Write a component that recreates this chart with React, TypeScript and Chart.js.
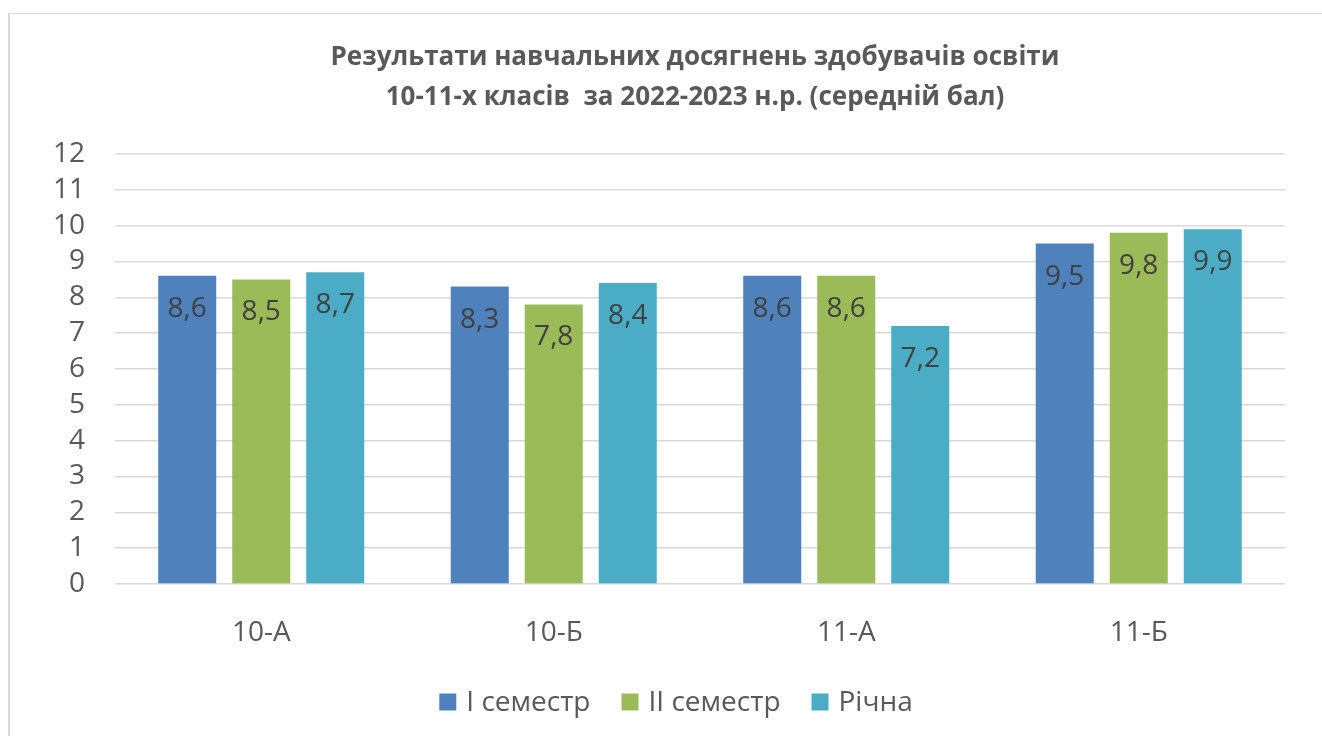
import React, { useEffect, useRef } from "react";
import { Chart, registerables } from "chart.js";

Chart.register(...registerables);

const titleLines = [
  "Результати навчальних досягнень здобувачів освіти",
  "10-11-х класів  за 2022-2023 н.р. (середній бал)",
];
const categories = ["10-А", "10-Б", "11-А", "11-Б"];
const seriesLabels = ["I семестр", "II семестр", "Річна"];
const seriesColors = ["#4f81bd", "#9bbb59", "#4bacc6"];
const semester1 = [8.6, 8.3, 8.6, 9.5];
const semester2 = [8.5, 7.8, 8.6, 9.8];
const annual = [8.7, 8.4, 7.2, 9.9];
const yTicks = [0, 1, 2, 3, 4, 5, 6, 7, 8, 9, 10, 11, 12];

const FONT = "'Open Sans', 'DejaVu Sans', sans-serif";
const TEXT = "#595959";
const FS = 28;

const overlayPlugin = {
  id: "overlay",
  afterDatasetsDraw(chart: any) {
    const ctx = chart.ctx;
    const area = chart.chartArea;
    ctx.save();
    // data labels
    ctx.font = `${FS}px ${FONT}`;
    ctx.fillStyle = "#404040";
    ctx.textAlign = "center";
    ctx.textBaseline = "middle";
    chart.data.datasets.forEach((ds: any, di: number) => {
      const meta = chart.getDatasetMeta(di);
      meta.data.forEach((el: any, i: number) => {
        const v = ds.data[i];
        const s = v.toFixed(1).replace(".", ",");
        ctx.fillText(s, el.x, el.y + 33);
      });
    });
    // title
    ctx.font = `bold 26px ${FONT}`;
    ctx.fillStyle = TEXT;
    const cx = (area.left + area.right) / 2 - 5;
    titleLines.forEach((t, i) => {
      ctx.fillText(t, cx, 58 + i * 40);
    });
    // legend
    ctx.font = `${FS}px ${FONT}`;
    ctx.textAlign = "left";
    const box = 17;
    const gapText = 10;
    const gapItem = 31;
    const widths = seriesLabels.map((l) => ctx.measureText(l).width);
    const total =
      widths.reduce((a, b) => a + b + box + gapText, 0) + gapItem * (seriesLabels.length - 1);
    let x = chart.width / 2 + 15 - total / 2;
    const ly = 702;
    seriesLabels.forEach((l, i) => {
      ctx.fillStyle = seriesColors[i];
      ctx.fillRect(x, ly - box / 2, box, box);
      ctx.fillStyle = TEXT;
      ctx.fillText(l, x + box + gapText, ly + 1);
      x += box + gapText + widths[i] + gapItem;
    });
    ctx.restore();
  },
};

export default function App() {
  const ref = useRef<HTMLCanvasElement>(null);
  useEffect(() => {
    document.body.style.overflow = "hidden";
    const chart = new Chart(ref.current!, {
      type: "bar",
      data: {
        labels: categories,
        datasets: [semester1, semester2, annual].map((d, i) => ({
          label: seriesLabels[i],
          data: d,
          backgroundColor: seriesColors[i],
          borderWidth: 0,
          categoryPercentage: 0.759,
          barPercentage: 0.784,
        })),
      },
      options: {
        responsive: false,
        animation: false,
        devicePixelRatio: 1,
        layout: { padding: { top: 154, left: 0, right: 37, bottom: 92 } },
        plugins: {
          legend: { display: false },
          title: { display: false },
          tooltip: { enabled: false },
        },
        scales: {
          x: {
            grid: { display: false, drawTicks: false },
            border: { display: false },
            ticks: { color: TEXT, font: { family: FONT, size: FS }, padding: 32 },
            afterFit: (s: any) => {
              s.height = 60;
            },
          },
          y: {
            min: 0,
            max: 12,
            afterBuildTicks: (s: any) => {
              s.ticks = yTicks.map((v) => ({ value: v }));
            },
            grid: { color: "#d9d9d9", lineWidth: 1.5, drawTicks: false },
            border: { display: false },
            ticks: {
              color: TEXT,
              font: { family: FONT, size: FS, lineHeight: 1 },
              padding: 30,
              autoSkip: false,
            },
            afterFit: (s: any) => {
              s.width = 115;
            },
          },
        },
      },
      plugins: [overlayPlugin],
    });
    return () => chart.destroy();
  }, []);
  return (
    <div
      style={{
        position: "fixed",
        left: 0,
        top: 0,
        width: 1322,
        height: 736,
        overflow: "hidden",
        background: "#fff",
      }}
    >
      <div
        style={{
          position: "absolute",
          left: 8,
          top: 13,
          right: -10,
          bottom: -10,
          borderTop: "1.5px solid #d9d9d9",
          borderLeft: "2px solid #d9d9d9",
        }}
      />
      <canvas
        ref={ref}
        width={1322}
        height={736}
        style={{ position: "absolute", left: 0, top: 0 }}
      />
    </div>
  );
}
